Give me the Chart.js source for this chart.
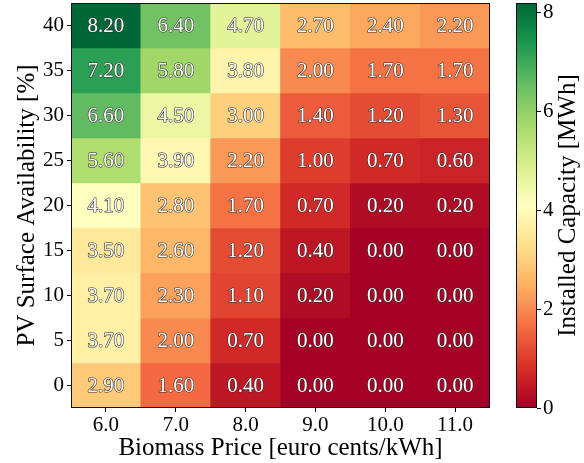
<!DOCTYPE html>
<html>
<head>
<meta charset="utf-8">
<script src="https://cdn.jsdelivr.net/npm/chart.js@4.4.1/dist/chart.umd.min.js"></script>
<style>
  html, body { margin: 0; padding: 0; background: #ffffff; }
  #wrap { width: 584px; height: 463px; }
</style>
</head>
<body>
<div id="wrap"><canvas id="heat" width="584" height="463"></canvas></div>
<script>
// Biomass price (euro cents/kWh) along the x axis
const biomassPrices = ['6.0', '7.0', '8.0', '9.0', '10.0', '11.0'];
// PV surface availability (%) along the y axis, top row first
const pvShares = [40, 35, 30, 25, 20, 15, 10, 5, 0];

// Installed capacity (MWh) for each PV share, one value per biomass price
const cap40 = [8.20, 6.40, 4.70, 2.70, 2.40, 2.20];
const cap35 = [7.20, 5.80, 3.80, 2.00, 1.70, 1.70];
const cap30 = [6.60, 4.50, 3.00, 1.40, 1.20, 1.30];
const cap25 = [5.60, 3.90, 2.20, 1.00, 0.70, 0.60];
const cap20 = [4.10, 2.80, 1.70, 0.70, 0.20, 0.20];
const cap15 = [3.50, 2.60, 1.20, 0.40, 0.00, 0.00];
const cap10 = [3.70, 2.30, 1.10, 0.20, 0.00, 0.00];
const cap05 = [3.70, 2.00, 0.70, 0.00, 0.00, 0.00];
const cap00 = [2.90, 1.60, 0.40, 0.00, 0.00, 0.00];

// Colour bar scale
const colorbarTicks = [0, 2, 4, 6, 8];
const capMin = 0;
const capMax = 8.2;

const capacityRows = [cap40, cap35, cap30, cap25, cap20, cap15, cap10, cap05, cap00];

// Red-yellow-green diverging palette
const RDYLGN = ['#a50026', '#d73027', '#f46d43', '#fdae61', '#fee08b', '#ffffbf',
                '#d9ef8b', '#a6d96a', '#66bd63', '#1a9850', '#006837'];
function hexRgb(h) {
  return [parseInt(h.slice(1, 3), 16), parseInt(h.slice(3, 5), 16), parseInt(h.slice(5, 7), 16)];
}
const RDYLGN_RGB = RDYLGN.map(hexRgb);
function colorFor(v) {
  let t = (v - capMin) / (capMax - capMin);
  t = Math.max(0, Math.min(1, t));
  const p = t * (RDYLGN_RGB.length - 1);
  const i = Math.min(Math.floor(p), RDYLGN_RGB.length - 2);
  const f = p - i;
  const a = RDYLGN_RGB[i], b = RDYLGN_RGB[i + 1];
  const c = a.map((x, k) => Math.round(x + (b[k] - x) * f));
  return `rgb(${c[0]},${c[1]},${c[2]})`;
}

const SERIF = "'Liberation Serif', 'Times New Roman', serif";
Chart.defaults.font.family = SERIF;
Chart.defaults.color = '#000';

// Each row of cells is one dataset of floating bars spanning its 5 % band
const halfBand = 2.5;
const datasets = pvShares.map((pv, r) => ({
  label: pv + ' %',
  data: capacityRows[r].map(() => [pv - halfBand, pv + halfBand]),
  cellValues: capacityRows[r],
  backgroundColor: capacityRows[r].map(colorFor),
  borderWidth: 0,
  grouped: false,
  barPercentage: 1,
  categoryPercentage: 1,
  xAxisID: 'x',
  yAxisID: 'y'
}));

// Fixes an axis box to a given size and drops its label overhang
function fixedBox(w, h) {
  return (s) => {
    if (w != null) s.width = w;
    if (h != null) s.height = h;
    s.paddingTop = 0; s.paddingBottom = 0; s.paddingLeft = 0; s.paddingRight = 0;
  };
}

const numFont = { family: SERIF, size: 21 };
const titleFont = { family: SERIF, size: 25 };
const CB_WIDTH = 21;

const heatPlugin = {
  id: 'heatDecor',
  afterDatasetsDraw(chart) {
    const ctx = chart.ctx;
    const area = chart.chartArea;
    // value labels in every cell
    ctx.save();
    ctx.font = `${numFont.size}px ${SERIF}`;
    ctx.textAlign = 'center';
    ctx.textBaseline = 'middle';
    ctx.lineJoin = 'round';
    chart.data.datasets.forEach((ds, di) => {
      const meta = chart.getDatasetMeta(di);
      meta.data.forEach((bar, j) => {
        const txt = ds.cellValues[j].toFixed(2);
        const cx = bar.x;
        const cy = (bar.y + bar.base) / 2 + 1;
        ctx.lineWidth = 1.2;
        ctx.strokeStyle = '#333';
        ctx.strokeText(txt, cx, cy);
        ctx.fillStyle = '#ffffff';
        ctx.fillText(txt, cx, cy);
      });
    });
    ctx.restore();

    // frame around the grid
    ctx.save();
    ctx.strokeStyle = '#111';
    ctx.lineWidth = 1;
    ctx.strokeRect(Math.round(area.left) + 0.5, Math.round(area.top) + 0.5,
                   Math.round(area.right - area.left) - 1, Math.round(area.bottom - area.top) - 1);
    ctx.restore();

    // colour bar
    const cb = chart.scales.cb;
    const x1 = cb.left;
    const x0 = x1 - CB_WIDTH;
    const yBot = cb.getPixelForValue(capMin);
    const yTop = cb.getPixelForValue(capMax);
    const grad = ctx.createLinearGradient(0, yBot, 0, yTop);
    RDYLGN.forEach((c, i) => grad.addColorStop(i / (RDYLGN.length - 1), c));
    ctx.save();
    ctx.fillStyle = grad;
    ctx.fillRect(x0, yTop, CB_WIDTH, yBot - yTop);
    ctx.strokeStyle = '#111';
    ctx.lineWidth = 1;
    ctx.strokeRect(Math.round(x0) + 0.5, Math.round(yTop) + 0.5, CB_WIDTH - 1, Math.round(yBot - yTop) - 1);
    ctx.restore();

    // colour bar caption, reading bottom to top
    ctx.save();
    ctx.translate(568, (area.top + area.bottom) / 2);
    ctx.rotate(-Math.PI / 2);
    ctx.font = `${titleFont.size}px ${SERIF}`;
    ctx.textAlign = 'center';
    ctx.textBaseline = 'middle';
    ctx.fillStyle = '#000';
    ctx.fillText('Installed Capacity [MWh]', 0, 0);
    ctx.restore();
  }
};

new Chart(document.getElementById('heat'), {
  type: 'bar',
  data: { labels: biomassPrices, datasets },
  plugins: [heatPlugin],
  options: {
    responsive: false,
    animation: false,
    devicePixelRatio: 1,
    layout: { padding: { top: 3, left: 0, right: 0, bottom: 0 } },
    plugins: { legend: { display: false }, tooltip: { enabled: false } },
    scales: {
      x: {
        type: 'category',
        position: 'bottom',
        offset: true,
        grid: { offset: false, drawOnChartArea: false, drawTicks: true, tickLength: 4, tickColor: '#000', tickWidth: 1 },
        border: { display: false },
        ticks: { font: numFont, color: '#000', padding: 1, maxRotation: 0 },
        title: { display: true, text: 'Biomass Price [euro cents/kWh]', font: titleFont, color: '#000', padding: { top: 0, bottom: 0 } },
        afterFit: fixedBox(null, 55)
      },
      y: {
        type: 'linear',
        position: 'left',
        min: -halfBand,
        max: 40 + halfBand,
        bounds: 'data',
        afterBuildTicks: (s) => { s.ticks = pvShares.map(v => ({ value: v })); },
        grid: { drawOnChartArea: false, drawTicks: true, tickLength: 4, tickColor: '#000', tickWidth: 1 },
        border: { display: false },
        ticks: { font: numFont, color: '#000', padding: 3 },
        title: { display: true, text: 'PV Surface Availability [%]', font: titleFont, color: '#000', padding: { top: 12, bottom: 0 } },
        afterFit: fixedBox(71, null)
      },
      cbGap: {
        type: 'linear',
        axis: 'y',
        position: 'right',
        weight: 0,
        grid: { display: false },
        border: { display: false },
        ticks: { display: false },
        afterFit: fixedBox(47, null)
      },
      cb: {
        type: 'linear',
        axis: 'y',
        position: 'right',
        weight: 1,
        min: capMin,
        max: capMax,
        bounds: 'data',
        afterBuildTicks: (s) => { s.ticks = colorbarTicks.map(v => ({ value: v })); },
        grid: { drawOnChartArea: false, drawTicks: true, tickLength: 4, tickColor: '#000', tickWidth: 1 },
        border: { display: false },
        ticks: { font: numFont, color: '#000', padding: 2 },
        afterFit: fixedBox(47, null)
      }
    }
  }
});
</script>
</body>
</html>
